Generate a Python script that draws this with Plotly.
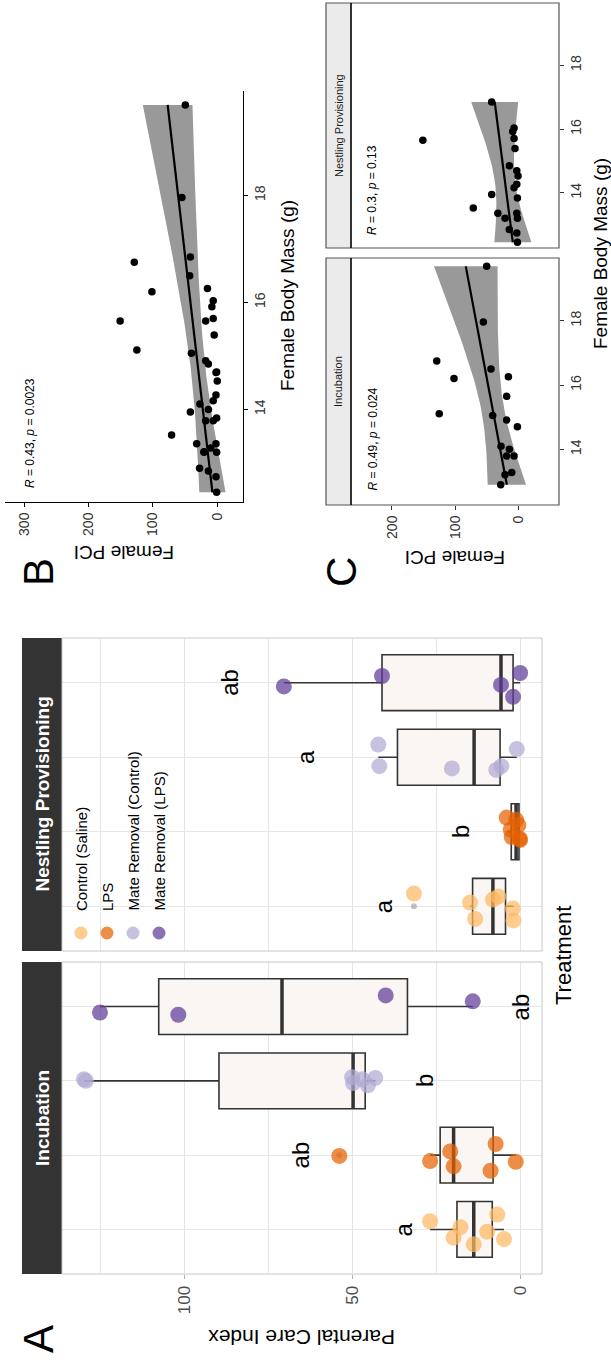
import numpy as np
import plotly.graph_objects as go

W, H = 611, 1364
def px(x): return x / W
def py(y): return 1 - y / H

FONT = "Liberation Sans, Arial, Helvetica, sans-serif"

# ---------------- Panel A data ----------------
treatments = ["Control (Saline)", "LPS", "Mate Removal (Control)", "Mate Removal (LPS)"]
colors = ["#fdb863", "#e66101", "#b2abd2", "#5e3c99"]

inc_ctrl = [5, 7, 10, 14, 18, 20, 27]
inc_ctrl_jit = [-0.13, 0.2, -0.03, -0.2, 0.03, -0.11, 0.11]
inc_lps = [1.5, 7.5, 9, 20, 21, 27, 54]
inc_lps_jit = [-0.09, 0.15, -0.21, -0.15, 0.05, -0.08, -0.01]
inc_mrc = [43.3, 45.5, 47.1, 49.9, 50.2, 129.4, 130.0]
inc_mrc_jit = [0.04, -0.06, 0.02, -0.03, 0.05, 0.0, 0.02]
inc_mrl = [14.3, 40.2, 101.9, 125.2]
inc_mrl_jit = [0.07, 0.15, -0.11, -0.08]

nest_ctrl = [2.2, 2.4, 6.7, 8.3, 13.6, 15.1, 31.8]
nest_ctrl_jit = [-0.19, -0.03, 0.13, 0.09, -0.17, 0.05, 0.17]
nest_lps = [0.2, 0.4, 0.7, 1.4, 2.7, 3.0, 4.2]
nest_lps_jit = [-0.11, -0.09, 0.09, 0.16, -0.07, 0.03, 0.19]
nest_mrc = [1.2, 5.8, 7.3, 20.5, 42.1, 42.4]
nest_mrc_jit = [0.11, -0.12, -0.17, -0.15, -0.12, 0.17]
nest_mrl = [0.2, 2.3, 5.9, 41.3, 70.5]
nest_mrl_jit = [0.13, -0.19, -0.03, 0.09, -0.05]

inc_letters = ["a", "ab", "b", "ab"]
inc_letter_y = [35, 65.6, 28.5, 0]
nest_letters = ["a", "b", "a", "ab"]
nest_letter_y = [41, 18, 64, 86.5]

pci_ticks = [0, 50, 100]

# ---------------- Panels B / C data ----------------
inc_mass = [16.75, 16.2, 15.11, 17.96, 16.5, 15.05, 16.26, 15.65, 14.91, 14.7,
            14.1, 14.0, 13.79, 13.79, 13.21, 13.28, 12.9, 19.69]
inc_fpci = [129, 101.6, 125, 55, 42.9, 40.2, 15.3, 18, 18, 1,
            27, 13.8, 18, 6.3, 20.6, 10, 27.5, 49.7]
nest_mass = [15.65, 13.52, 13.95, 13.36, 16.85, 13.2, 12.85, 14.85, 15.92, 15.7, 15.39,
             16.03, 14.69, 14.53, 14.27, 14.16, 13.84, 13.36, 13.2, 12.74, 12.45]
nest_fpci = [151, 71, 41.8, 32, 41.8, 20.6, 13.8, 13.8, 8.4, 6.3, 4.8,
             6.3, 2, 0, 2, 6.3, 1, 2, 1, 2, 1]
mass_ticks = [14, 16, 18]
fpci_ticks_b = [0, 100, 200, 300]
fpci_ticks_c = [0, 100, 200]
cor_all = "<i>R</i> = 0.43, <i>p</i> = 0.0023"
cor_inc = "<i>R</i> = 0.49, <i>p</i> = 0.024"
cor_nest = "<i>R</i> = 0.3, <i>p</i> = 0.13"

MASS_RANGE = [12.27, 19.95]

fig = go.Figure()
shapes = []
ann = []

def rgba(hexc, a):
    h = hexc.lstrip("#")
    return "rgba(%d,%d,%d,%.2f)" % (int(h[0:2], 16), int(h[2:4], 16), int(h[4:6], 16), a)

def add_box(vals, pos, xa, ya):
    v = np.array(vals, dtype=float)
    q1, med, q3 = np.percentile(v, [25, 50, 75])
    iqr = q3 - q1
    lo = v[v >= q1 - 1.5 * iqr].min()
    hi = v[v <= q3 + 1.5 * iqr].max()
    fig.add_trace(go.Box(y=[pos], q1=[q1], median=[med], q3=[q3], lowerfence=[lo], upperfence=[hi],
                         orientation="h", width=0.75, whiskerwidth=0, fillcolor="#f9f6f3",
                         line=dict(color="#333333", width=1.6), boxpoints=False,
                         xaxis=xa, yaxis=ya, hoverinfo="skip"))
    fig.add_trace(go.Scatter(x=[med, med], y=[pos - 0.375, pos + 0.375], mode="lines",
                             line=dict(color="#333333", width=3.5), xaxis=xa, yaxis=ya, hoverinfo="skip"))
    outl = v[(v < q1 - 1.5 * iqr) | (v > q3 + 1.5 * iqr)]
    if len(outl):
        fig.add_trace(go.Scatter(x=outl, y=[pos] * len(outl), mode="markers",
                                 marker=dict(size=6, color="rgba(150,150,150,0.6)"),
                                 xaxis=xa, yaxis=ya, hoverinfo="skip"))

def add_pts(vals, jit, pos, color, xa, ya):
    fig.add_trace(go.Scatter(x=vals, y=[pos + j for j in jit], mode="markers",
                             marker=dict(size=16, color=rgba(color, 0.72), line=dict(width=0)),
                             xaxis=xa, yaxis=ya, hoverinfo="skip"))

inc_groups = [(inc_ctrl, inc_ctrl_jit), (inc_lps, inc_lps_jit), (inc_mrc, inc_mrc_jit), (inc_mrl, inc_mrl_jit)]
nest_groups = [(nest_ctrl, nest_ctrl_jit), (nest_lps, nest_lps_jit), (nest_mrc, nest_mrc_jit), (nest_mrl, nest_mrl_jit)]

for i, (vals, jit) in enumerate(nest_groups):
    add_box(vals, i, "x", "y")
for i, (vals, jit) in enumerate(inc_groups):
    add_box(vals, i, "x2", "y2")
for i, (vals, jit) in enumerate(nest_groups):
    add_pts(vals, jit, i, colors[i], "x", "y")
for i, (vals, jit) in enumerate(inc_groups):
    add_pts(vals, jit, i, colors[i], "x2", "y2")

for i, t in enumerate(nest_letters):
    ann.append(dict(x=nest_letter_y[i], y=i, xref="x", yref="y", text=t, showarrow=False,
                    textangle=-90, xanchor="center", yanchor="middle",
                    font=dict(size=24, color="black", family=FONT)))
for i, t in enumerate(inc_letters):
    ann.append(dict(x=inc_letter_y[i], y=i, xref="x2", yref="y2", text=t, showarrow=False,
                    textangle=-90, xanchor="center", yanchor="middle",
                    font=dict(size=24, color="black", family=FONT)))

# ---------------- regression helpers ----------------
def tq(df):
    z = 1.959964
    return (z + (z**3 + z) / (4 * df) + (5 * z**5 + 16 * z**3 + 3 * z) / (96 * df**2)
            + (3 * z**7 + 19 * z**5 + 17 * z**3 - 15 * z) / (384 * df**3))

def add_fit(mass, pci, xa, ya):
    x = np.array(mass, float); y = np.array(pci, float)
    n = len(x)
    b, a = np.polyfit(x, y, 1)
    res = y - (a + b * x)
    s = np.sqrt((res ** 2).sum() / (n - 2))
    sxx = ((x - x.mean()) ** 2).sum()
    g = np.linspace(x.min(), x.max(), 80)
    fit = a + b * g
    se = s * np.sqrt(1 / n + (g - x.mean()) ** 2 / sxx)
    t = tq(n - 2)
    lo, hi = fit - t * se, fit + t * se
    fig.add_trace(go.Scatter(x=np.concatenate([lo, hi[::-1]]), y=np.concatenate([g, g[::-1]]),
                             fill="toself", fillcolor="rgba(153,153,153,1)", line=dict(width=0),
                             mode="lines", xaxis=xa, yaxis=ya, hoverinfo="skip"))
    fig.add_trace(go.Scatter(x=fit, y=g, mode="lines", line=dict(color="black", width=2.2),
                             xaxis=xa, yaxis=ya, hoverinfo="skip"))
    fig.add_trace(go.Scatter(x=y, y=x, mode="markers", marker=dict(size=7.5, color="black"),
                             xaxis=xa, yaxis=ya, hoverinfo="skip"))

add_fit(inc_mass + nest_mass, inc_fpci + nest_fpci, "x3", "y3")
add_fit(nest_mass, nest_fpci, "x4", "y4")
add_fit(inc_mass, inc_fpci, "x5", "y5")

# ---------------- layout / axes ----------------
GRID = "#e6e6e6"
def a_xaxis(show, dom):
    d = dict(domain=dom, range=[136.5, -6.3], showgrid=True, gridcolor=GRID, gridwidth=1,
             tickvals=pci_ticks, zeroline=False, showline=False,
             minor=dict(tickvals=[25, 75, 125], showgrid=True, gridcolor=GRID, gridwidth=0.7))
    if show:
        d.update(ticks="outside", ticklen=4, tickcolor="#b3b3b3", tickangle=-90, showticklabels=True,
                 tickfont=dict(size=17, color="#4d4d4d", family=FONT))
    else:
        d.update(ticks="", showticklabels=False)
    return d

def a_yaxis(dom, anchor):
    return dict(domain=dom, range=[-0.6, 3.6], tickvals=[0, 1, 2, 3], showticklabels=False, ticks="",
                showgrid=True, gridcolor=GRID, zeroline=False, anchor=anchor)

layout = dict(width=W, height=H, margin=dict(l=0, r=0, t=0, b=0), paper_bgcolor="white",
              plot_bgcolor="rgba(0,0,0,0)", showlegend=False, font=dict(family=FONT))

layout["xaxis"] = dict(a_xaxis(False, [px(62), px(542)]), anchor="y")
layout["yaxis"] = a_yaxis([py(951), py(638)], "x")
layout["xaxis2"] = dict(a_xaxis(True, [px(62), px(542)]), anchor="y2")
layout["yaxis2"] = a_yaxis([py(1274), py(962)], "x2")

TK = dict(size=14, color="#333333", family=FONT)
layout["xaxis3"] = dict(domain=[px(5), px(243)], range=[330, -40], anchor="y3", showgrid=False, zeroline=False,
                        showline=True, linecolor="black", linewidth=1, ticks="outside", ticklen=4,
                        tickcolor="black", tickvals=fpci_ticks_b, tickangle=-90, tickfont=TK)
layout["yaxis3"] = dict(domain=[py(502), py(91)], range=MASS_RANGE, anchor="x3", side="right", showgrid=False,
                        zeroline=False, showline=True, linecolor="black", linewidth=1, ticks="outside",
                        ticklen=4, tickcolor="black", tickvals=mass_ticks, tickangle=-90, tickfont=TK)

for k, dom, showx in [("4", [py(248), py(3)], False), ("5", [py(505), py(258)], True)]:
    xa = dict(domain=[px(351), px(559)], range=[265, -65], anchor="y" + k, showgrid=False, zeroline=False,
              showline=False, tickvals=fpci_ticks_c)
    if showx:
        xa.update(ticks="outside", ticklen=4, tickcolor="#333333", tickangle=-90, tickfont=TK)
    else:
        xa.update(ticks="", showticklabels=False)
    layout["xaxis" + k] = xa
    layout["yaxis" + k] = dict(domain=dom, range=MASS_RANGE, anchor="x" + k, side="right", showgrid=False,
                               zeroline=False, showline=False, ticks="outside", ticklen=4, tickcolor="#333333",
                               tickvals=mass_ticks, tickangle=-90, tickfont=TK)

# ---------------- shapes: borders & strips ----------------
def rect(x0, y0, x1, y1, line=None, fill=None, lw=1):
    shapes.append(dict(type="rect", xref="paper", yref="paper", x0=px(x0), x1=px(x1), y0=py(y1), y1=py(y0),
                       line=dict(color=line or "rgba(0,0,0,0)", width=lw if line else 0),
                       fillcolor=fill or "rgba(0,0,0,0)", layer="above" if fill is None else "below"))

def lab(x, y, text, size, angle, color="black", **kw):
    d = dict(x=px(x), y=py(y), xref="paper", yref="paper", text=text, showarrow=False, textangle=angle,
             xanchor="center", yanchor="middle", font=dict(size=size, color=color, family=FONT))
    d.update(kw)
    ann.append(d)

# Panel A
for (y0, y1, title) in [(638, 951, "Nestling Provisioning"), (962, 1274, "Incubation")]:
    rect(62, y0, 542, y1, line="#c8c8c8", lw=1)
    rect(22, y0, 62, y1, fill="#333333")
    lab(42, (y0 + y1) / 2, "<b>%s</b>" % title, 19, -90, color="white")

# Panel C
for (y0, y1, title) in [(3, 248, "Nestling Provisioning"), (258, 505, "Incubation")]:
    rect(326, y0, 351, y1, fill="#ebebeb")
    rect(326, y0, 559, y1, line="#555555", lw=1.2)
    shapes.append(dict(type="line", xref="paper", yref="paper", x0=px(351), x1=px(351), y0=py(y0), y1=py(y1),
                       line=dict(color="black", width=1.6)))
    lab(338.5, (y0 + y1) / 2, title, 11, -90, color="#1a1a1a")

# legend (inside nestling panel)
leg_x = [81, 107, 133, 159]
for i, t in enumerate(treatments):
    shapes.append(dict(type="circle", xref="paper", yref="paper", x0=px(leg_x[i] - 6.5), x1=px(leg_x[i] + 6.5),
                       y0=py(933 + 6.5), y1=py(933 - 6.5), fillcolor=rgba(colors[i], 0.72), line=dict(width=0)))
    lab(leg_x[i], 913, t, 15, -90, yanchor="bottom")

# ---------------- titles / labels ----------------
lab(38, 1339, "A", 42, -90)
lab(38, 572, "B", 42, -90)
lab(341, 572, "C", 42, -90)
lab(302, 1338, "Parental Care Index", 21, 180)
lab(563, 956, "Treatment", 22, -90)
lab(287, 296, "Female Body Mass (g)", 19, -90)
lab(124, 553, "Female PCI", 19, 180)
lab(600, 254, "Female Body Mass (g)", 19, -90)
lab(455, 558, "Female PCI", 19, 180)
lab(30, 490, cor_all, 12, -90, yanchor="bottom")
lab(372, 493, cor_inc, 12, -90, yanchor="bottom")
lab(372, 237, cor_nest, 12, -90, yanchor="bottom")

layout["shapes"] = shapes
layout["annotations"] = ann
fig.update_layout(**layout)
fig.write_html("out.html")
